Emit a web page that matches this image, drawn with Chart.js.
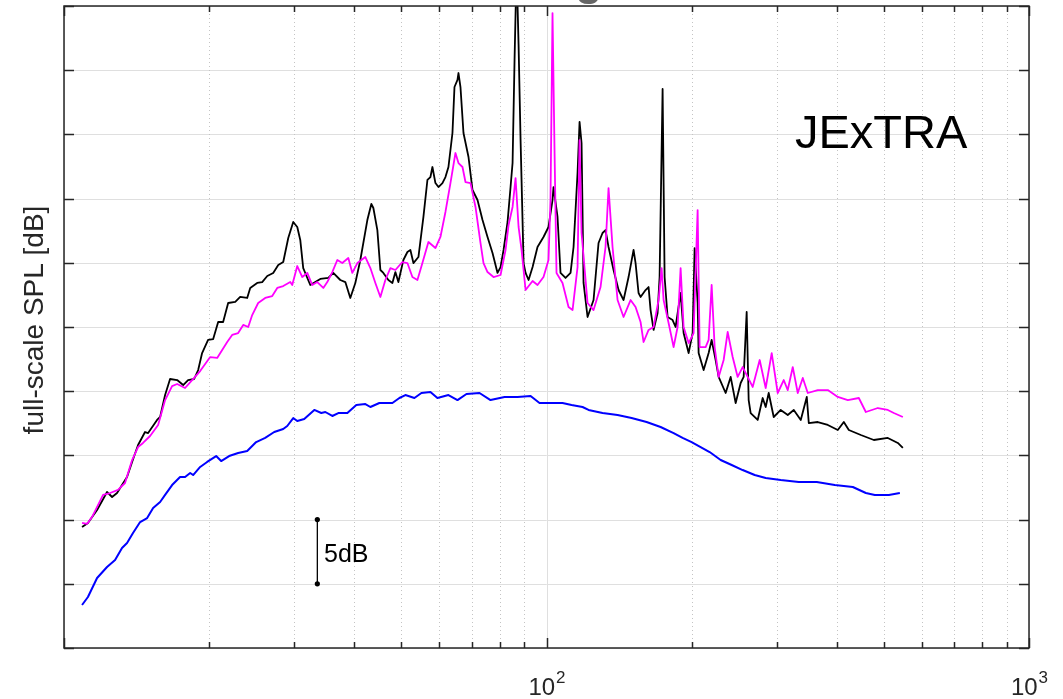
<!DOCTYPE html>
<html>
<head>
<meta charset="utf-8">
<script src="https://cdn.jsdelivr.net/npm/chart.js@4.4.1/dist/chart.umd.min.js"></script>
<style>
html,body{margin:0;padding:0;background:#fff;}
#wrap{width:1063px;height:699px;}
</style>
</head>
<body>
<div id="wrap"><canvas id="c" width="1063" height="699"></canvas></div>
<script>
// ---- data (frequency in Hz, level in dB, arbitrary full-scale offset) ----
const blackHz = [10.90,11.21,11.71,12.28,12.58,12.88,13.19,13.51,13.84,14.24,14.72,14.94,15.59,15.82,16.20,16.59,17.16,17.66,18.08,18.61,18.97,19.33,19.89,20.38,20.87,21.37,21.89,22.64,23.18,23.97,24.32,25.14,25.75,26.38,27.14,27.80,28.47,29.16,29.86,30.44,30.88,31.32,32.39,33.17,33.98,35.30,36.15,37.38,38.29,39.21,40.16,41.13,42.53,43.35,43.77,44.61,45.26,45.91,47.02,47.93,48.62,49.32,50.51,51.49,52.23,52.99,54.27,55.58,56.65,57.47,58.02,58.86,59.71,60.86,61.74,62.63,63.84,64.46,65.39,65.70,66.33,67.29,68.92,70.25,71.95,73.69,75.47,77.29,79.16,80.31,81.47,83.04,84.24,85.05,85.86,86.69,87.52,88.36,89.64,90.50,91.80,93.58,95.80,98.58,100.96,102.91,103.40,105.40,106.92,109.51,112.16,113.78,115.97,117.09,118.21,119.34,121.64,125.17,128.19,130.66,132.54,134.46,137.71,141.04,144.45,147.94,151.51,152.97,155.17,156.66,160.45,162.77,164.33,166.70,169.92,171.55,174.03,175.70,178.23,182.54,185.17,189.65,192.39,197.04,200.84,202.77,205.70,206.68,211.67,216.79,219.92,224.16,227.39,235.13,240.82,246.63,252.59,256.23,259.93,262.42,264.94,273.96,280.58,284.64,288.75,295.73,305.80,316.23,325.44,336.50,346.29,349.62,364.94,382.82,401.55,413.23,423.23,448.20,476.90,509.81,534.78,547.70];
const blackDb = [9.42,9.74,10.75,12.15,11.76,12.07,12.69,13.32,14.49,15.81,16.82,16.74,17.76,17.99,19.70,20.95,20.87,20.48,20.87,20.95,21.65,22.97,23.99,24.06,25.39,25.39,26.87,26.95,27.34,27.26,28.04,28.43,28.50,28.97,29.21,29.83,30.06,31.93,33.18,32.79,31.78,29.59,28.27,28.50,28.74,28.82,29.21,28.66,28.50,27.26,28.43,30.22,33.33,34.58,34.27,32.55,29.44,29.21,28.66,28.43,29.28,28.50,30.22,30.84,31.00,29.98,30.45,33.57,36.45,36.68,37.46,36.21,35.90,36.21,36.68,37.46,40.11,43.69,44.24,44.78,43.69,40.11,38.24,35.67,34.89,33.33,32.01,30.76,29.21,29.67,31.00,33.18,35.90,37.77,45.80,53.00,47.00,39.56,29.98,29.21,28.66,29.67,31.23,32.01,32.79,34.89,35.90,33.57,29.21,28.82,29.21,31.23,36.99,40.97,39.33,28.43,25.78,27.10,31.54,32.32,32.55,31.23,29.44,27.88,27.10,28.89,31.00,29.98,27.65,27.34,27.88,28.11,26.32,24.77,26.09,28.89,43.54,28.89,25.78,25.54,25.00,27.65,24.53,22.97,24.53,31.15,26.87,22.97,21.65,22.97,23.99,22.43,21.11,19.86,21.11,19.08,20.64,21.11,26.17,19.31,18.30,17.76,19.47,18.77,19.86,17.99,18.54,18.15,18.54,17.76,19.55,17.52,17.60,17.37,16.98,17.60,16.98,16.59,16.20,16.36,15.97,15.58];

const magentaHz = [10.90,11.16,11.43,12.05,12.46,12.94,13.38,13.84,14.24,14.58,15.08,15.67,16.20,16.75,17.16,17.82,18.43,19.15,20.09,20.77,21.79,22.31,22.96,23.52,24.09,24.55,25.26,26.12,27.01,27.67,28.47,29.44,29.72,30.44,31.18,31.93,32.70,33.49,34.47,35.13,35.98,36.85,37.74,38.84,39.59,40.55,42.13,43.15,44.19,45.26,46.35,47.47,48.62,50.27,51.49,52.73,54.01,55.31,56.92,58.86,60.28,61.74,63.23,64.76,65.70,66.97,67.93,69.58,71.26,72.99,74.04,75.47,77.66,80.31,82.25,83.44,85.05,86.27,87.52,88.78,90.50,93.58,95.80,98.58,100.96,101.93,102.91,103.90,104.90,107.95,111.09,113.24,115.97,117.09,118.21,121.64,125.17,129.42,132.54,134.46,137.05,140.37,144.45,149.36,152.97,156.66,158.92,162.77,166.70,170.74,173.20,174.86,179.08,183.41,186.95,189.65,192.39,197.04,201.80,205.70,207.67,213.70,216.79,219.92,223.09,227.39,232.89,237.39,243.13,249.00,255.01,261.17,267.49,276.59,284.64,292.92,301.44,310.21,316.23,323.89,331.71,339.73,347.95,364.94,382.82,401.55,421.21,443.94,459.04,486.10,509.81,524.65,547.70];
const magentaDb = [9.74,9.66,10.20,11.92,12.07,12.31,12.85,14.64,15.65,15.97,16.51,17.37,19.31,20.40,20.56,20.25,20.87,21.57,22.66,22.59,23.83,24.38,24.53,25.16,25.00,25.93,26.87,27.26,27.41,28.04,28.19,28.50,28.27,29.75,28.89,29.21,28.27,28.50,28.04,28.50,29.28,30.22,29.98,30.37,29.21,29.98,30.45,29.59,28.43,27.34,28.66,29.59,29.44,30.06,29.98,28.89,28.66,29.98,31.62,31.15,32.01,33.96,36.21,38.55,37.77,37.46,36.29,36.21,34.35,31.54,29.98,29.28,28.89,29.05,31.00,32.94,34.35,36.60,32.79,31.00,27.88,28.58,28.27,28.89,30.22,34.89,49.45,38.78,29.21,28.43,26.56,26.32,29.67,39.56,32.32,26.87,26.32,28.11,31.23,35.82,31.23,27.10,25.78,27.10,26.56,25.39,23.83,24.77,25.00,27.10,29.59,27.10,25.31,23.44,25.00,29.59,25.00,23.75,24.53,34.11,23.44,23.44,23.99,28.27,23.44,21.11,22.43,24.61,22.66,21.11,21.88,21.11,20.33,22.43,20.25,22.97,19.86,20.87,20.09,21.88,19.86,21.03,19.86,20.09,20.09,19.55,19.31,19.47,18.38,18.69,18.54,18.30,17.99];

const blueHz = [10.90,11.21,11.71,12.28,12.76,13.19,13.51,13.90,14.38,14.87,15.30,15.82,16.20,16.75,17.40,17.82,18.26,18.52,19.15,19.80,20.67,21.17,21.99,22.96,23.97,25.02,26.12,27.27,28.47,29.02,29.86,30.44,31.47,33.02,34.14,34.80,35.98,37.03,38.66,40.35,42.13,43.15,45.04,47.93,49.56,51.00,53.24,55.05,57.47,59.42,62.63,65.39,68.26,72.64,76.56,81.86,87.10,92.69,96.72,101.93,107.95,112.70,118.77,122.22,130.66,140.37,150.07,161.22,172.37,183.41,191.47,199.88,208.66,217.83,229.58,241.97,255.01,270.06,284.64,305.80,333.30,363.20,395.84,431.40,459.04,479.18,512.25,539.91];
const blueDb = [3.35,3.97,5.45,6.31,6.85,7.79,8.18,8.96,9.81,10.12,10.90,11.37,11.92,12.69,13.32,13.32,13.63,13.47,14.10,14.49,14.95,14.56,14.95,15.19,15.34,16.04,16.36,16.82,17.06,17.29,17.91,17.68,17.83,18.54,18.30,18.38,18.07,18.30,18.30,18.93,19.00,18.77,19.08,19.08,19.47,19.70,19.47,19.86,19.94,19.47,19.70,19.31,19.78,19.86,19.31,19.55,19.55,19.63,19.08,19.08,19.08,18.93,18.77,18.54,18.30,18.15,17.91,17.60,17.21,16.74,16.36,16.04,15.65,15.26,14.64,14.25,13.86,13.47,13.24,13.08,12.93,12.93,12.69,12.54,12.07,11.92,11.92,12.07];

// scale bar (5 dB) at a fixed frequency
const scaleBarHz = [33.5, 33.5];
const scaleBarDb = [5, 10];

// axis definitions
const xMinorTicks = [20,30,40,50,60,70,80,90,200,300,400,500,600,700,800,900];
const xMajorTicks = [10,100,1000];
const xTickLabelValues = [100, 1000];
const xTickLabelExps = ['2', '3'];
const yTickValues = [0,5,10,15,20,25,30,35,40,45,50];

function pts(xs, ys){ return xs.map((x,i)=>({x:x, y:ys[i]})); }

const AX = '#262626';
const FONT = '"Liberation Sans", Arial, sans-serif';
const decor = {
  id: 'decor',
  beforeDatasetsDraw(chart){
    const {ctx, chartArea:a, scales:{x, y}} = chart;
    ctx.save();
    ctx.strokeStyle = '#dfdfdf';
    ctx.lineWidth = 1;
    yTickValues.forEach(v=>{
      const py = Math.round(y.getPixelForValue(v)) + 0.5;
      ctx.beginPath(); ctx.moveTo(a.left, py); ctx.lineTo(a.right, py); ctx.stroke();
    });
    ctx.strokeStyle = '#c4c4c4';
    ctx.setLineDash([1,3]);
    xMinorTicks.forEach(v=>{
      const px = Math.round(x.getPixelForValue(v)) + 0.5;
      ctx.beginPath(); ctx.moveTo(px, a.top); ctx.lineTo(px, a.bottom); ctx.stroke();
    });
    ctx.setLineDash([]);
    ctx.strokeStyle = '#dfdfdf';
    xMajorTicks.forEach(v=>{
      const px = Math.round(x.getPixelForValue(v)) + 0.5;
      ctx.beginPath(); ctx.moveTo(px, a.top); ctx.lineTo(px, a.bottom); ctx.stroke();
    });
    ctx.restore();
  },
  afterDatasetsDraw(chart){
    const {ctx, chartArea:a, scales:{x, y}} = chart;
    ctx.save();
    ctx.strokeStyle = AX;
    ctx.lineWidth = 1.5;
    ctx.beginPath();
    yTickValues.forEach(v=>{
      const py = Math.round(y.getPixelForValue(v)) + 0.5;
      ctx.moveTo(a.left, py); ctx.lineTo(a.left + 10, py);
      ctx.moveTo(a.right, py); ctx.lineTo(a.right - 10, py);
    });
    xMinorTicks.forEach(v=>{
      const px = Math.round(x.getPixelForValue(v)) + 0.5;
      ctx.moveTo(px, a.bottom); ctx.lineTo(px, a.bottom - 6);
      ctx.moveTo(px, a.top); ctx.lineTo(px, a.top + 6);
    });
    xMajorTicks.forEach(v=>{
      const px = Math.round(x.getPixelForValue(v)) + 0.5;
      ctx.moveTo(px, a.bottom); ctx.lineTo(px, a.bottom - 10);
      ctx.moveTo(px, a.top); ctx.lineTo(px, a.top + 10);
    });
    ctx.stroke();
    ctx.strokeRect(a.left, a.top, a.right - a.left, a.bottom - a.top);

    // x tick labels 10^n
    ctx.fillStyle = AX;
    ctx.textBaseline = 'alphabetic';
    xTickLabelValues.forEach((v,i)=>{
      const px = x.getPixelForValue(v);
      ctx.font = '24px ' + FONT;
      const wb = ctx.measureText('10').width;
      ctx.font = '17px ' + FONT;
      const we = ctx.measureText(xTickLabelExps[i]).width;
      const left = px - (wb + we)/2;
      ctx.font = '24px ' + FONT;
      ctx.textAlign = 'left';
      ctx.fillText('10', left, 695);
      ctx.font = '17px ' + FONT;
      ctx.fillText(xTickLabelExps[i], left + wb + 1, 683);
    });

    // y axis title
    ctx.save();
    ctx.translate(35, 320);
    ctx.rotate(-Math.PI/2);
    ctx.textAlign = 'center';
    ctx.textBaseline = 'middle';
    ctx.font = '28px ' + FONT;
    ctx.fillText('full-scale SPL [dB]', 0, 0);
    ctx.restore();

    // panel label
    ctx.fillStyle = '#000';
    ctx.textAlign = 'left';
    ctx.font = '47px ' + FONT;
    ctx.fillText('JExTRA', 795, 148);

    // scale bar label
    ctx.font = '25px ' + FONT;
    ctx.fillText('5dB', 324, 562);

    // clipped title fragment at top
    ctx.fillStyle = '#666';
    ctx.textAlign = 'center';
    ctx.font = 'bold 44px ' + FONT;
    ctx.fillText('g', 589, -5);
    ctx.restore();
  }
};

new Chart(document.getElementById('c'), {
  type: 'line',
  data: {
    datasets: [
      { label:'scale', data: pts(scaleBarHz, scaleBarDb), borderColor:'#000', backgroundColor:'#000', borderWidth:1.3, pointRadius:2.6, pointBackgroundColor:'#000', pointBorderWidth:0, order:0 },
      { label:'magenta', data: pts(magentaHz, magentaDb), borderColor:'#ff00ff', borderWidth:1.8, pointRadius:0, order:1 },
      { label:'black', data: pts(blackHz, blackDb), borderColor:'#000000', borderWidth:1.8, pointRadius:0, order:2 },
      { label:'blue', data: pts(blueHz, blueDb), borderColor:'#0000ff', borderWidth:2, pointRadius:0, order:3 }
    ]
  },
  options: {
    responsive: false,
    animation: false,
    events: [],
    layout: { padding: { left:64, right:34, top:6, bottom:51 } },
    elements: { line: { tension: 0, borderJoinStyle:'round' } },
    plugins: { legend:{display:false}, tooltip:{enabled:false}, title:{display:false} },
    scales: {
      x: { type:'logarithmic', min:10, max:1000, display:false },
      y: { type:'linear', min:0, max:50, display:false }
    }
  },
  plugins: [decor]
});
</script>
</body>
</html>
